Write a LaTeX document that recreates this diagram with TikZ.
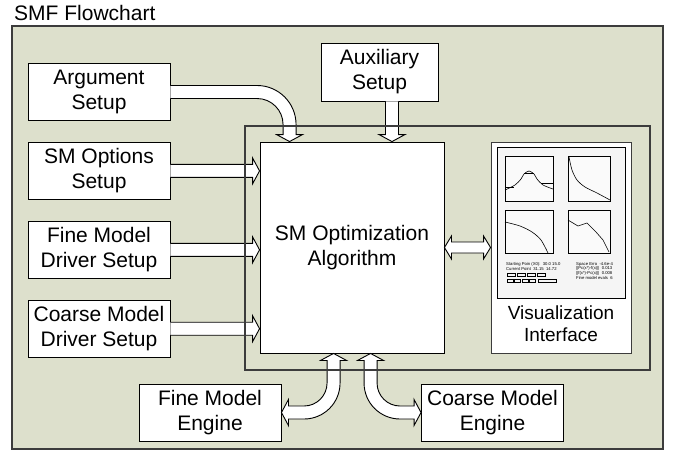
\documentclass[tikz,border=0pt]{standalone}
\usepackage{fontspec}
\setmainfont{Liberation Sans}
\usetikzlibrary{positioning, calc}

\definecolor{panelbg}{RGB}{221,224,204}
\definecolor{framegray}{RGB}{60,60,60}

\begin{document}
\begin{tikzpicture}[
    x=1pt, y=-1pt,
    box/.style={rectangle, draw, fill=white, line width=0.9pt, align=center, inner sep=2pt,
        minimum width=142pt, minimum height=57pt, font=\fontsize{21pt}{25pt}\selectfont},
    blk/.style={draw, fill=white, line width=0.9pt, line join=miter},
    shot/.style={inner sep=0pt, font=\fontsize{4.2pt}{4.5pt}\selectfont},
    % straight block arrow to the right
    rarrow/.style={to path={let \p1=(\tikztostart), \p2=(\tikztotarget) in
        (\x1,\y1+6.5pt) -- (\x2-7pt,\y1+6.5pt) -- (\x2-7pt,\y1+13pt) -- (\x2,\y1)
        -- (\x2-7pt,\y1-13pt) -- (\x2-7pt,\y1-6.5pt) -- (\x1,\y1-6.5pt)}},
    % straight block arrow downwards
    darrow/.style={to path={let \p1=(\tikztostart), \p2=(\tikztotarget) in
        (\x1-6.5pt,\y1) -- (\x1-6.5pt,\y2+7pt) -- (\x1-13pt,\y2+7pt) -- (\x1,\y2)
        -- (\x1+13pt,\y2+7pt) -- (\x1+6.5pt,\y2+7pt) -- (\x1+6.5pt,\y1)}},
    % double block arrow left-right
    lrarrow/.style={to path={let \p1=(\tikztostart), \p2=(\tikztotarget) in
        (\x1,\y1) -- (\x1+7pt,\y1+11.5pt) -- (\x1+7pt,\y1+5.5pt) -- (\x2-7pt,\y1+5.5pt)
        -- (\x2-7pt,\y1+11.5pt) -- (\x2,\y1) -- (\x2-7pt,\y1-11.5pt) -- (\x2-7pt,\y1-5.5pt)
        -- (\x1+7pt,\y1-5.5pt) -- (\x1+7pt,\y1-11.5pt) -- cycle}},
    % block arrow going right, then bending down
    bendarrow/.style={to path={let \p1=(\tikztostart), \p2=(\tikztotarget) in
        (\x1,\y1+6.5pt) -- (\x2-32.5pt,\y1+6.5pt) arc[start angle=90, end angle=0, radius=39pt]
        -- (\x2+6.5pt,\y2+7pt) -- (\x2+13pt,\y2+7pt) -- (\x2,\y2) -- (\x2-13pt,\y2+7pt)
        -- (\x2-6.5pt,\y2+7pt) -- (\x2-6.5pt,\y1-32.5pt) arc[start angle=0, end angle=90, radius=26pt]
        -- (\x1,\y1-6.5pt)}},
    % double block arrows from the algorithm down to the engines
    lengarrow/.style={to path={let \p1=(\tikztostart), \p2=(\tikztotarget) in
        (\x1,\y1) -- (\x1+13pt,\y1-7pt) -- (\x1+6.5pt,\y1-7pt) -- (\x1+6.5pt,\y2+29.5pt)
        arc[start angle=0, end angle=-90, radius=36pt]
        -- (\x2+7pt,\y2-6.5pt) -- (\x2+7pt,\y2-13pt) -- (\x2,\y2) -- (\x2+7pt,\y2+13pt)
        -- (\x2+7pt,\y2+6.5pt) -- (\x1-29.5pt,\y2+6.5pt) arc[start angle=-90, end angle=0, radius=23pt]
        -- (\x1-6.5pt,\y1-7pt) -- (\x1-13pt,\y1-7pt) -- cycle}},
    rengarrow/.style={to path={let \p1=(\tikztostart), \p2=(\tikztotarget) in
        (\x1,\y1) -- (\x1-13pt,\y1-7pt) -- (\x1-6.5pt,\y1-7pt) -- (\x1-6.5pt,\y2+29.5pt)
        arc[start angle=180, end angle=270, radius=36pt]
        -- (\x2-7pt,\y2-6.5pt) -- (\x2-7pt,\y2-13pt) -- (\x2,\y2) -- (\x2-7pt,\y2+13pt)
        -- (\x2-7pt,\y2+6.5pt) -- (\x1+29.5pt,\y2+6.5pt) arc[start angle=270, end angle=180, radius=23pt]
        -- (\x1+6.5pt,\y1-7pt) -- (\x1+13pt,\y1-7pt) -- cycle}}
]
\useasboundingbox (0,0) rectangle (675,459);

% panel and title
\draw[fill=panelbg, draw=framegray, line width=1.4pt] (12,26) rectangle (663,449);
\node[anchor=base west, inner sep=0pt, font=\fontsize{21pt}{25pt}\selectfont] (title) at (14,20) {SMF Flowchart};

% setup column
\node (arg) [box] at (99,92) {Argument\\Setup};
\node (opt) [box, below=21pt of arg] {SM Options\\Setup};
\node (fdrv) [box, below=21pt of opt] {Fine Model\\Driver Setup};
\node (cdrv) [box, below=21pt of fdrv] {Coarse Model\\Driver Setup};
\node (aux) [box, minimum width=117pt, minimum height=58pt] at (379.5,72) {Auxiliary\\Setup};

% core
\node (sm) [box, minimum width=184pt, minimum height=211pt] at (352,247.5) {SM Optimization\\Algorithm};
\node (vis) [box, minimum width=140pt, minimum height=211pt, draw=framegray] at (561,247.5) {};
\node (vistext) [font=\fontsize{19pt}{22pt}\selectfont, align=center, inner sep=0pt] at (561,324) {Visualization\\Interface};

% engines
\node (feng) [box] at (210,412.5) {Fine Model\\Engine};
\node (ceng) [box] at (492.5,412.5) {Coarse Model\\Engine};

% screenshot in the visualization panel
\draw[line width=0.6pt, fill=black!4] (497,147) rectangle (625,298);
\draw[line width=0.5pt, fill=black!2] (505,156) rectangle (553,201);
\draw[line width=0.5pt, fill=black!2] (568,156) rectangle (610,201);
\draw[line width=0.5pt, fill=black!2] (505,210) rectangle (553,253);
\draw[line width=0.5pt, fill=black!2] (568,210) rectangle (610,253);
\draw[line width=0.6pt] plot[smooth] coordinates {(505,190) (515,185) (521,179) (524,174) (529,171) (534,174) (537,179) (543,185) (553,189)};
\draw[line width=0.6pt] (505,187) -- (514,187) (541,183) -- (553,183) (524,173) -- (534,173);
\draw[line width=0.6pt] plot[smooth] coordinates {(569,157) (572,170) (577,180) (585,187) (597,193) (610,200)};
\draw[line width=0.6pt] plot[smooth] coordinates {(505,222) (520,226) (532,232) (541,240) (548,253)};
\draw[line width=0.6pt] (568,220) -- (578,226) -- (587,223) -- (596,232) -- (603,240) -- (609,252);
\node (vstart) [shot, anchor=west] at (506,264) {Starting Poin (X0):\ \ 30.0 15.0};
\node (vcur) [shot, anchor=west] at (506,268.5) {Current Point\ \ 31.15\ \ 14.72};
\node (verr) [shot, anchor=west] at (576,264) {Space Erro\ \ -4.6e-4};
\node (vnc) [shot, anchor=west] at (576,268.5) {||Pc(x*)-f(x)||\ \ 0.013};
\node (vnf) [shot, anchor=west] at (576,273) {||f(x*)-Pc(x)||\ \ 0.008};
\node (vevals) [shot, anchor=west] at (576,277.5) {Fine model evals\ \ 6};
\foreach \bx in {507,517,527,537}
  \draw[line width=0.4pt] (\bx,273) rectangle ++(8,3.5);
\foreach \bx in {507,514.5,522,529.5}
  \draw[line width=0.4pt] (\bx,279) rectangle ++(6,3.5);
\draw[line width=0.4pt] (538,279) rectangle (556,282.5);

% block arrows
\coordinate (auxout) at ([xshift=12.5pt]aux.south);
\draw[blk] (arg.east) to[bendarrow] ([xshift=30pt]sm.north west);
\draw[blk] (auxout) to[darrow] (auxout |- sm.north);
\draw[blk] (opt.east) to[rarrow] (opt.east -| sm.west);
\draw[blk] (fdrv.east) to[rarrow] (fdrv.east -| sm.west);
\draw[blk] (cdrv.east) to[rarrow] (cdrv.east -| sm.west);
\draw[blk] (sm.east) to[lrarrow] (vis.west);
\draw[blk] ([xshift=74pt]sm.south west) to[lengarrow] (feng.east);
\draw[blk] ([xshift=111pt]sm.south west) to[rengarrow] (ceng.west);

% frame round the optimization core
\draw[draw=framegray, line width=1.3pt] (245,126) rectangle (650,370);

\end{tikzpicture}
\end{document}
